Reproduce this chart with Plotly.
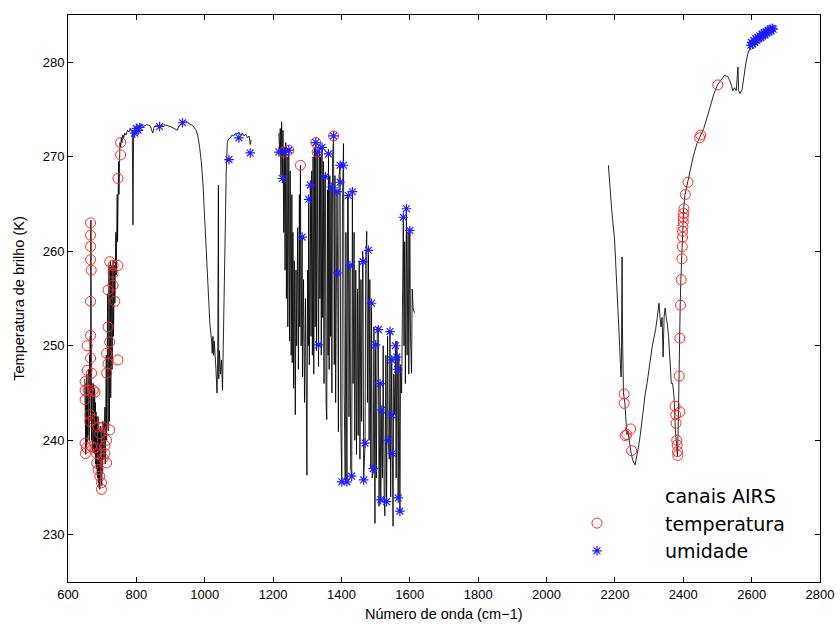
import plotly.graph_objects as go

# ---------------- spectrum (brightness temperature, K) ----------------
wn_band1 = [649, 650, 651, 652, 653, 654, 655, 656, 657, 658, 659, 660, 661, 662, 663, 664, 665, 666, 667, 668,
            669, 670, 671, 672, 673, 674, 675, 676, 677, 678, 679, 680, 681, 682, 683, 684, 685, 686, 687, 688,
            689, 690, 691, 692, 693, 694, 695, 696, 697, 698, 699, 700, 701, 702, 703, 704, 705, 706, 707, 708,
            709, 710, 711, 712, 713, 714, 715, 716, 717, 718, 719, 720, 721, 722, 723, 724, 725, 726, 727, 728,
            729, 730, 731, 732, 733, 734, 735, 736, 737, 738, 739, 740, 741, 742, 743, 744, 745, 746, 747, 748,
            749, 750, 751, 752, 754, 756, 758, 760, 763, 766, 770, 774, 778, 782, 785, 788, 790, 792, 795, 800,
            805, 810, 815, 820, 830, 840, 848, 852, 860, 870, 880, 890, 900, 910, 920, 925, 935, 945, 955, 965,
            975, 980, 985, 990, 995, 1000, 1005, 1010, 1015, 1020, 1022, 1024, 1026, 1028, 1030, 1033, 1036, 1038,
            1040, 1041, 1043, 1046, 1049, 1052, 1055, 1058, 1061, 1063, 1066, 1070, 1075, 1080, 1085, 1090, 1095,
            1100, 1105, 1110, 1115, 1120, 1125, 1130, 1133, 1136]
tb_band1 = [246.5, 239.0, 245.5, 238.5, 246.0, 239.2, 247.0, 239.8, 245.0, 240.5, 246.5, 241.0, 247.5, 240.0, 249.0,
            242.0, 251.0, 245.0, 263.3, 248.0, 240.0, 246.0, 239.0, 245.0, 238.8, 246.0, 239.5, 244.5, 238.6, 245.5,
            239.0, 244.0, 237.5, 243.0, 237.0, 242.5, 236.5, 242.0, 236.0, 242.5, 235.5, 241.5, 235.0, 241.0, 234.8,
            240.5, 235.5, 241.5, 236.0, 240.0, 235.2, 241.0, 236.5, 242.0, 237.0, 241.5, 238.0, 242.5, 238.5, 243.5,
            237.5, 244.0, 239.0, 249.0, 240.0, 251.5, 241.0, 255.5, 241.5, 252.0, 241.0, 258.5, 242.0, 256.0, 243.0,
            259.0, 244.5, 258.0, 246.0, 258.5, 247.5, 257.5, 249.0, 259.0, 251.0, 257.0, 253.0, 258.5, 254.5, 260.0,
            256.0, 262.0, 257.5, 264.0, 259.0, 266.0, 261.0, 268.0, 263.5, 269.5, 266.0, 270.5, 268.0, 271.5, 271.0,
            272.0, 271.5, 272.3, 272.0, 272.5, 272.3, 272.8, 272.6, 273.0, 272.7, 272.8, 262.8, 272.5, 273.0, 273.2,
            273.0, 273.3, 273.5, 273.2, 273.4, 273.3, 272.5, 273.2, 273.3, 273.2, 273.4, 273.3, 273.2, 273.0, 272.8,
            273.3, 273.6, 273.8, 273.5, 273.3, 272.8, 272.2, 271.0, 269.5, 267.0, 263.5, 259.5, 255.5, 252.4, 250.5,
            249.2, 251.0, 249.0, 250.5, 248.5, 247.4, 245.0, 249.0, 267.0, 246.5, 249.5, 247.0, 248.5, 245.3, 252.0,
            260.0, 266.0, 268.5, 271.5, 271.9, 272.0, 272.3, 272.2, 272.5, 272.4, 272.6, 272.3, 272.5, 272.2, 272.4,
            272.0, 272.2, 271.3, 271.8]

wn_band2 = [1217, 1219, 1221, 1223, 1225, 1227, 1229, 1231, 1233, 1235, 1237, 1239, 1241, 1243, 1246, 1248, 1250,
            1253, 1255, 1256, 1258, 1260, 1262, 1265, 1267, 1269, 1272, 1274, 1277, 1278, 1280, 1282, 1285, 1286,
            1289, 1292, 1295, 1297, 1299, 1301, 1303, 1304, 1306, 1309, 1311, 1313, 1315, 1317, 1319, 1321, 1323,
            1325, 1327, 1329, 1331, 1333, 1335, 1337, 1339, 1341, 1343, 1345, 1347, 1349, 1351, 1353, 1355, 1357,
            1359, 1361, 1362, 1364, 1366, 1368, 1370, 1372, 1374, 1377, 1379, 1381, 1383, 1385, 1387, 1389, 1391,
            1393, 1396, 1398, 1401, 1403, 1406, 1408, 1411, 1413, 1416, 1418, 1420, 1422, 1425, 1427, 1430, 1432,
            1434, 1437, 1439, 1442, 1444, 1447, 1449, 1452, 1454, 1457, 1459, 1462, 1463, 1465, 1469, 1471, 1474,
            1476, 1479, 1481, 1483, 1486, 1488, 1490, 1493, 1495, 1498, 1500, 1502, 1505, 1508, 1510, 1513, 1515,
            1518, 1520, 1522, 1525, 1527, 1530, 1532, 1535, 1537, 1540, 1542, 1544, 1547, 1549, 1551, 1553, 1556,
            1558, 1560, 1562, 1564, 1566, 1568, 1571, 1573, 1576, 1578, 1581, 1583, 1585, 1587, 1590, 1592, 1595,
            1597, 1600, 1602, 1605, 1607, 1610, 1614]
tb_band2 = [272.5, 270.5, 273.0, 268.0, 273.7, 267.7, 272.8, 262.0, 270.5, 258.0, 271.5, 255.0, 270.0, 252.0, 270.7,
            250.5, 268.5, 249.0, 266.0, 248.2, 262.0, 245.5, 259.0, 242.7, 258.0, 250.0, 262.5, 247.5, 266.0, 252.0,
            269.1, 250.0, 261.5, 246.7, 257.0, 244.0, 255.0, 240.0, 236.3, 258.0, 250.0, 265.5, 248.0, 267.0, 251.0,
            268.5, 249.0, 270.0, 247.0, 271.0, 252.0, 271.5, 249.5, 270.5, 250.1, 247.8, 271.0, 255.0, 270.0, 249.0,
            271.0, 253.0, 269.5, 246.0, 268.0, 267.9, 244.0, 242.2, 266.5, 249.0, 270.3, 247.5, 268.0, 251.0, 266.8,
            245.0, 270.0, 272.2, 248.0, 268.0, 244.0, 266.0, 266.3, 257.7, 240.9, 268.0, 269.1, 242.0, 235.6, 265.0,
            271.4, 245.0, 235.8, 262.0, 235.6, 266.0, 265.9, 242.5, 258.5, 237.0, 236.2, 266.3, 246.0, 262.0, 240.0,
            258.0, 238.5, 256.0, 240.5, 259.0, 238.0, 257.0, 242.0, 260.0, 258.9, 235.8, 239.7, 259.0, 262.1, 244.0,
            260.1, 240.0, 257.0, 237.0, 254.5, 236.0, 237.0, 252.0, 231.2, 250.1, 236.0, 252.0, 251.7, 233.0, 246.0,
            233.7, 243.2, 236.0, 250.0, 234.0, 232.0, 249.0, 233.5, 251.0, 240.0, 238.0, 251.5, 234.0, 248.5, 238.6,
            230.9, 247.0, 242.7, 250.0, 236.0, 250.5, 247.5, 233.9, 249.0, 232.5, 248.0, 245.0, 258.0, 263.6, 250.0,
            261.0, 246.0, 264.5, 249.0, 262.0, 247.0, 262.2, 251.0, 247.1, 256.0, 253.8, 253.5]

wn_band3 = [2181, 2186, 2190, 2193, 2196, 2199, 2202, 2205, 2208, 2211, 2214, 2216, 2218, 2219, 2221, 2222, 2225,
            2229, 2232, 2235, 2238, 2241, 2244, 2248, 2253, 2259, 2264, 2269, 2274, 2279, 2284, 2289, 2294, 2299,
            2304, 2309, 2314, 2319, 2324, 2329, 2332, 2335, 2338, 2341, 2344, 2347, 2350, 2353, 2357, 2361, 2365,
            2369, 2373, 2377, 2380, 2383, 2385, 2387, 2389, 2391, 2393, 2395, 2397, 2399, 2401, 2405, 2413, 2421,
            2429, 2440, 2450, 2460, 2470, 2480, 2490, 2500, 2510, 2520, 2530, 2538, 2545, 2550, 2555, 2560, 2562,
            2566, 2572, 2578, 2583, 2589, 2596, 2604, 2610, 2620, 2630, 2640, 2650, 2658, 2665]
tb_band3 = [269.1, 266.0, 264.7, 263.5, 262.6, 261.2, 259.0, 257.0, 255.2, 252.4, 249.9, 248.1, 246.7, 248.0, 259.4,
            252.0, 245.0, 244.0, 241.5, 240.6, 241.0, 240.4, 239.5, 238.5, 237.8, 237.4, 238.2, 239.3, 240.5, 242.0,
            243.9, 245.0, 246.0, 247.5, 248.8, 249.9, 250.8, 251.7, 253.0, 254.5, 253.0, 252.0, 253.0, 248.8, 253.1,
            254.0, 253.0, 252.4, 251.0, 249.0, 246.0, 246.0, 244.6, 241.0, 239.0, 238.3, 241.0, 246.8, 250.8, 254.3,
            257.0, 259.2, 261.5, 263.1, 264.5, 266.0, 267.3, 268.8, 270.0, 271.4, 272.3, 273.0, 274.2, 275.5, 276.7,
            277.6, 278.1, 278.6, 278.5, 277.9, 277.0, 277.3, 277.0, 279.5, 277.0, 276.7, 277.1, 279.0, 279.9, 280.9,
            281.6, 282.1, 282.3, 282.6, 282.9, 283.1, 283.3, 283.5, 283.6]

# ---------------- AIRS temperature channels (circles) ----------------
temp_wn = [666, 666, 666, 666, 668, 666, 666, 656, 666, 656, 669, 650, 650, 659, 674, 650, 679, 664, 664, 674,
           650, 654, 651, 669, 679, 684, 688, 703, 693, 684, 688, 693, 698, 698, 703, 713, 708, 722, 713, 708,
           717, 722, 713, 717, 713, 746, 722, 732, 746, 717, 732, 737, 732, 746, 754, 754,
           1231, 1246, 1280, 1325, 1329, 1377,
           2227, 2227, 2235, 2246, 2230, 2249,
           2384, 2383, 2382, 2381, 2379, 2378, 2390, 2376, 2388, 2390, 2392, 2394, 2396, 2397, 2398, 2398,
           2399, 2400, 2400, 2401, 2402, 2406, 2414, 2451, 2448, 2501]
temp_tb = [263.0, 261.7, 260.5, 259.1, 258.0, 254.7, 251.1, 250.0, 248.7, 247.4, 247.1, 246.2, 245.3, 245.3, 245.3,
           244.3, 245.1, 242.7, 242.0, 242.2, 239.7, 239.2, 238.6, 239.3, 239.2, 238.6, 241.4, 241.4, 240.7, 237.6,
           236.9, 236.2, 235.5, 234.8, 238.1, 237.6, 238.6, 241.1, 240.0, 239.4, 252.0, 250.4, 249.2, 248.1, 247.1,
           248.5, 258.9, 258.5, 258.5, 255.9, 256.4, 254.7, 257.7, 267.7, 270.2, 271.5,
           270.5, 270.7, 269.1, 271.5, 270.5, 272.2,
           244.9, 243.9, 240.6, 241.2, 240.5, 238.9,
           238.4, 238.8, 239.5, 240.0, 241.8, 242.7, 243.0, 243.6, 246.8, 250.8, 254.3, 257.0, 259.2, 260.5, 261.5,
           262.1, 262.6, 263.1, 263.6, 264.0, 264.5, 266.0, 267.3, 272.3, 272.0, 277.6]

# ---------------- AIRS humidity channels (asterisks) ----------------
hum_wn = [795, 800, 805, 810, 868, 935, 1071, 1100, 1133,
          1217, 1227, 1233, 1246, 1285, 1304, 1309, 1325, 1331, 1343, 1362, 1377, 1353, 1370, 1387, 1396, 1396,
          1389, 1333, 1401, 1406, 1420, 1432, 1416, 1430, 1425, 1469, 1465, 1463, 1479, 1488, 1493, 1508, 1500,
          1513, 1518, 1515, 1532, 1542, 1547, 1547, 1537, 1549, 1558, 1562, 1564, 1566, 1571, 1581, 1590, 1600,
          2597, 2600, 2603, 2606, 2609, 2612, 2615, 2618, 2621, 2624, 2627, 2630, 2633, 2636, 2639, 2642, 2645,
          2648, 2651, 2654, 2657, 2660, 2663]
hum_tb = [272.5, 273.0, 272.8, 273.1, 273.2, 273.6, 269.7, 272.0, 270.4,
          270.5, 267.7, 270.5, 270.7, 261.5, 265.5, 267.0, 271.5, 270.5, 271.0, 270.3, 272.2, 267.9, 266.8, 266.3,
          269.1, 267.3, 257.7, 250.1, 235.6, 269.1, 265.9, 266.3, 235.6, 236.2, 258.5, 239.7, 235.8, 258.9, 260.1,
          254.5, 237.0, 251.7, 250.1, 246.0, 243.2, 233.7, 233.5, 251.5, 248.5, 242.7, 240.0, 238.6, 250.0, 248.8,
          247.5, 233.9, 232.5, 263.6, 264.5, 262.2,
          281.8, 282.1, 281.9, 282.3, 282.1, 282.5, 282.3, 282.6, 282.5, 282.8, 282.6, 283.0, 282.8, 283.1, 282.9,
          283.2, 283.1, 283.4, 283.2, 283.5, 283.3, 283.6, 283.5]

x_ticks = [600, 800, 1000, 1200, 1400, 1600, 1800, 2000, 2200, 2400, 2600, 2800]
y_ticks = [230, 240, 250, 260, 270, 280]
x_title = "Número de onda (cm−1)"
y_title = "Temperatura de brilho (K)"

FONT = "Liberation Sans, Arial, Helvetica, sans-serif"
LEGEND_FONT = "DejaVu Sans, Liberation Sans, sans-serif"
fig = go.Figure()

line_style = dict(color="rgba(0,0,0,0.85)", width=1)
for wn, tb in [(wn_band1, tb_band1), (wn_band2, tb_band2), (wn_band3, tb_band3)]:
    fig.add_trace(go.Scatter(x=wn, y=tb, mode="lines", line=line_style, showlegend=False, hoverinfo="skip"))

fig.add_trace(go.Scatter(x=[None], y=[None], mode="markers", name="canais AIRS",
                         marker=dict(color="rgba(0,0,0,0)", size=1)))
fig.add_trace(go.Scatter(x=temp_wn, y=temp_tb, mode="markers", name="temperatura",
                         marker=dict(symbol="circle-open", size=10, color="rgb(255,40,40)",
                                     line=dict(color="rgb(255,40,40)", width=1))))
fig.add_trace(go.Scatter(x=hum_wn, y=hum_tb, mode="markers", name="umidade",
                         marker=dict(symbol="asterisk-open", size=8, color="rgb(30,30,255)",
                                     line=dict(color="rgb(30,30,255)", width=1.2))))

axis_common = dict(showgrid=False, zeroline=False, showline=True, linecolor="black", linewidth=1,
                   mirror="ticks", ticks="inside", ticklen=5, tickcolor="black",
                   tickfont=dict(family=FONT, size=13, color="black"))

fig.update_layout(
    width=840, height=624,
    margin=dict(l=68, r=20, t=15, b=42, autoexpand=False),
    paper_bgcolor="white", plot_bgcolor="white",
    font=dict(family=FONT, size=13, color="black"),
    xaxis=dict(range=[600, 2800], tickvals=x_ticks, ticktext=[str(v) for v in x_ticks], **axis_common),
    yaxis=dict(range=[225, 285], tickvals=y_ticks, ticktext=[str(v) for v in y_ticks],
               title=dict(text=y_title, font=dict(family=FONT, size=14.5), standoff=14),
               **axis_common),
    legend=dict(x=0.613, y=0.186, xanchor="left", yanchor="top", bgcolor="rgba(0,0,0,0)",
                borderwidth=0, itemwidth=126, tracegroupgap=0,
                font=dict(family=LEGEND_FONT, size=19, color="black")),
    showlegend=True,
    annotations=[dict(text=x_title, xref="paper", yref="paper", x=0.5, y=0, xanchor="center",
                      yanchor="middle", yshift=-32, showarrow=False,
                      font=dict(family=FONT, size=14.5, color="black"))],
)

fig.write_html("out.html")
